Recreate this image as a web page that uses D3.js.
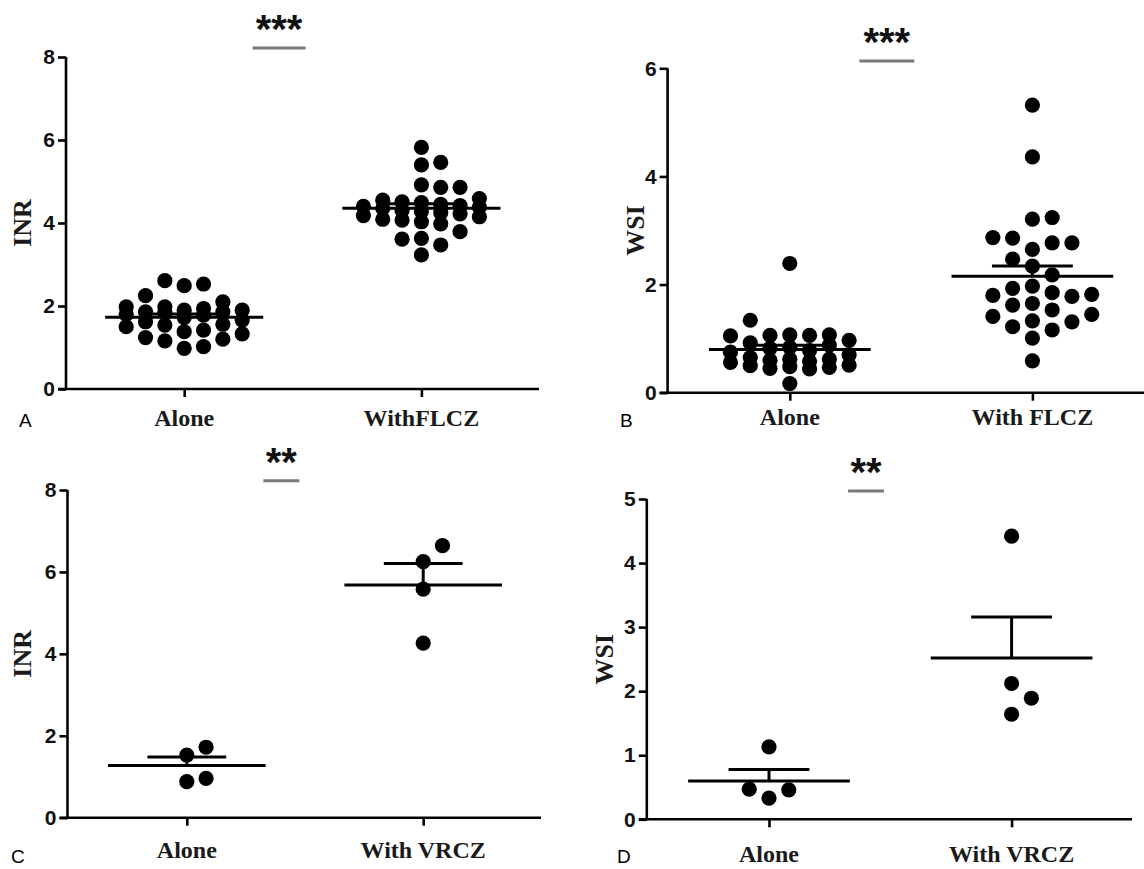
<!DOCTYPE html>
<html><head><meta charset="utf-8">
<script src="https://cdn.jsdelivr.net/npm/d3@7"></script>
<style>body{margin:0;background:#fff}svg{display:block}</style>
</head><body>
<script>
// ---------- data ----------
const catsA = ["Alone", "WithFLCZ"];
const catsB = ["Alone", "With FLCZ"];
const catsC = ["Alone", "With VRCZ"];
const catsD = ["Alone", "With VRCZ"];

const inrAloneA = [2.61,2.53,2.49,2.25,2.10,1.98,1.98,1.94,1.90,1.90,1.86,1.86,1.84,1.80,1.78,1.72,1.66,1.62,1.54,1.56,1.50,1.42,1.38,1.33,1.24,1.20,1.16,1.02,0.98];
const inrFlczA  = [5.82,5.46,5.40,4.92,4.86,4.86,4.59,4.55,4.51,4.49,4.45,4.42,4.40,4.38,4.35,4.30,4.28,4.25,4.22,4.18,4.15,4.09,4.07,4.03,3.98,3.79,3.63,3.61,3.47,3.23];
const wsiAloneB = [2.39,1.34,1.07,1.07,1.06,1.06,1.05,0.97,0.92,0.88,0.84,0.82,0.78,0.75,0.70,0.65,0.62,0.62,0.60,0.58,0.56,0.51,0.50,0.48,0.47,0.45,0.44,0.17];
const wsiFlczB  = [5.32,4.36,3.24,3.21,2.87,2.86,2.77,2.77,2.65,2.47,2.34,2.18,1.97,1.93,1.85,1.82,1.80,1.78,1.65,1.62,1.53,1.45,1.41,1.33,1.31,1.22,1.16,1.01,0.59];
const inrAloneC = [1.72,1.53,0.88,0.96];
const inrVrczC  = [6.64,6.25,5.58,4.26];
const wsiAloneD = [1.13,0.47,0.33,0.46];
const wsiVrczD  = [4.42,2.12,1.89,1.64];

const ticksA = [0,2,4,6,8];
const ticksB = [0,2,4,6];
const ticksC = [0,2,4,6,8];
const ticksD = [0,1,2,3,4,5];

const yTitles = ["INR","WSI","INR","WSI"];
const panelLetters = ["A","B","C","D"];
const sigLabels = ["***","***","**","**"];

// ---------- layout ----------
const panels = [
  {cats:catsA, groups:[inrAloneA, inrFlczA], ticks:ticksA, domain:[0,8], y0:389, y1:57,
   axisX:66, xa:184.2, xb:421.4, xEnd:539, labelY:426, letterX:19, letterY:427,
   titleX:31, sigY:48, sigW:53},
  {cats:catsB, groups:[wsiAloneB, wsiFlczB], ticks:ticksB, domain:[0,6], y0:392.7, y1:68.3,
   axisX:667.6, xa:789.8, xb:1032.4, xEnd:1144, labelY:425, letterX:620, letterY:427,
   titleX:644, sigY:61, sigW:55},
  {cats:catsC, groups:[inrAloneC, inrVrczC], ticks:ticksC, domain:[0,8], y0:817.7, y1:490,
   axisX:67.5, xa:186.8, xb:423.2, xEnd:541, labelY:858, letterX:11, letterY:863,
   titleX:31, sigY:480.7, sigW:36},
  {cats:catsD, groups:[wsiAloneD, wsiVrczD], ticks:ticksD, domain:[0,5], y0:819.3, y1:499,
   axisX:646.8, xa:769, xb:1011.6, xEnd:1132, labelY:862, letterX:617, letterY:863,
   titleX:613, sigY:491, sigW:36}
];

const svg = d3.select("body").append("svg").attr("width",1144).attr("height",869);

function swarm(values, cx, y, S, D, maxCol) {
  const pts = values.map(v => ({v, py: y(v)})).sort((a,b) => a.v - b.v);
  const order = [0];
  for (let k = 1; k <= maxCol; k++) order.push(k, -k);
  const placed = [];
  pts.forEach(p => {
    let best = null, bestGap = -1;
    for (const c of order) {
      const same = placed.filter(q => q.c === c);
      const gap = same.length ? d3.min(same, q => Math.abs(q.py - p.py)) : Infinity;
      if (gap >= D) { best = c; break; }
      if (gap > bestGap) { bestGap = gap; best = c; }
    }
    p.c = best; p.px = cx + best * S;
    placed.push(p);
  });
  return placed;
}

panels.forEach((P, i) => {
  const g = svg.append("g");
  const y = d3.scaleLinear().domain(P.domain).range([P.y0, P.y1]);
  const x = d3.scalePoint().domain(P.cats).range([P.xa, P.xb]);
  const band = P.xb - P.xa;

  // y axis
  const ya = g.append("g").attr("transform", `translate(${P.axisX},0)`)
    .call(d3.axisLeft(y).tickValues(P.ticks).tickSize(8).tickPadding(3).tickFormat(d3.format("d")));
  ya.selectAll("path,line").attr("stroke","#000").attr("stroke-width",2.6);
  ya.select(".domain").attr("d", `M0,${y(P.domain[1])}V${P.y0}`);
  ya.selectAll("text").attr("font-family","'Liberation Sans', Arial, sans-serif")
    .attr("font-weight","bold").attr("font-size",21).attr("fill","#111");

  // x axis
  const xa = g.append("g").attr("transform", `translate(0,${P.y0})`)
    .call(d3.axisBottom(x).tickSize(8).tickFormat(""));
  xa.select(".domain").attr("d", `M${P.axisX - 8},0H${P.xEnd}`);
  xa.selectAll("path,line").attr("stroke","#000").attr("stroke-width",2.6);

  // category labels
  g.selectAll("text.cat").data(P.cats).join("text").attr("class","cat")
    .attr("x", d => x(d)).attr("y", P.labelY).attr("text-anchor","middle")
    .attr("font-family","'Liberation Serif', 'Times New Roman', serif")
    .attr("font-weight","bold").attr("font-size",24).attr("fill","#1a1a1a").text(d => d);

  // y title
  g.append("text").attr("transform", `translate(${P.titleX},${(P.y0 + y(P.domain[1]))/2}) rotate(-90)`)
    .attr("text-anchor","middle")
    .attr("font-family","'Liberation Serif', 'Times New Roman', serif")
    .attr("font-weight","bold").attr("font-size",26).attr("fill","#1a1a1a").text(yTitles[i]);

  // panel letter
  g.append("text").attr("x", P.letterX).attr("y", P.letterY)
    .attr("font-family","'Liberation Sans', Arial, sans-serif").attr("font-size",19)
    .attr("fill","#000").text(panelLetters[i]);

  // dots
  const S = band * 0.0815, D = 16.5;
  P.groups.forEach((vals, k) => {
    const pts = swarm(vals, x(P.cats[k]), y, S, D, 3);
    g.selectAll(null).data(pts).join("circle")
      .attr("cx", d => d.px).attr("cy", d => d.py).attr("r", 7.6).attr("fill","#000");
  });

  // mean + SEM (upper)
  P.groups.forEach((vals, k) => {
    const m = d3.mean(vals), sem = d3.deviation(vals) / Math.sqrt(vals.length);
    const cx = x(P.cats[k]);
    const w = band * 2/3, cw = band / 3;
    g.append("line").attr("x1", cx - w/2).attr("x2", cx + w/2).attr("y1", y(m)).attr("y2", y(m))
      .attr("stroke","#000").attr("stroke-width",3);
    g.append("line").attr("x1", cx).attr("x2", cx).attr("y1", y(m)).attr("y2", y(m + sem))
      .attr("stroke","#000").attr("stroke-width",3);
    g.append("line").attr("x1", cx - cw/2).attr("x2", cx + cw/2).attr("y1", y(m + sem)).attr("y2", y(m + sem))
      .attr("stroke","#000").attr("stroke-width",3);
  });

  // significance
  const sx = P.xa + 0.4 * band;
  g.append("line").attr("x1", sx - P.sigW/2).attr("x2", sx + P.sigW/2).attr("y1", P.sigY).attr("y2", P.sigY)
    .attr("stroke","#7a7a7a").attr("stroke-width",3);
  g.append("text").attr("x", sx).attr("y", P.sigY - 5).attr("text-anchor","middle")
    .attr("font-family","'Liberation Sans', Arial, sans-serif").attr("font-weight","bold")
    .attr("font-size",40).attr("fill","#111").text(sigLabels[i]);
});
</script>
</body></html>
